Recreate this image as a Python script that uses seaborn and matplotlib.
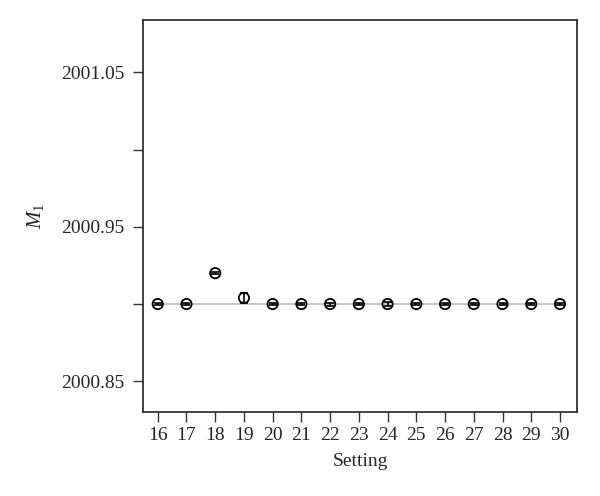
import numpy as np
import pandas as pd
import matplotlib
matplotlib.use('Agg')
import matplotlib.pyplot as plt
import seaborn as sns

# --- Dados
setting = [16, 17, 18, 19, 20, 21, 22, 23, 24, 25, 26, 27, 28, 29, 30]
m1 = [2000.900, 2000.900, 2000.920, 2000.904, 2000.900, 2000.900, 2000.900,
      2000.900, 2000.900, 2000.900, 2000.900, 2000.900, 2000.900, 2000.900,
      2000.900]
m1_err = [0.0005, 0.0005, 0.0005, 0.003, 0.0005, 0.0007, 0.001, 0.0005,
          0.0012, 0.0005, 0.0005, 0.0005, 0.0005, 0.0005, 0.0005]
valor_real = 2000.90

dados = pd.DataFrame({'setting': setting, 'm1': m1, 'err': m1_err})

sns.set_style('ticks')
plt.rcParams['font.family'] = ['Liberation Serif', 'DejaVu Serif']
plt.rcParams['mathtext.fontset'] = 'custom'
plt.rcParams['mathtext.it'] = 'Liberation Serif:italic'
plt.rcParams['mathtext.rm'] = 'Liberation Serif'

fig = plt.figure(figsize=(6, 4.96), dpi=100)
ax = fig.add_axes([0.238, 0.169, 0.724, 0.791])

# linha do valor verdadeiro
ax.hlines(valor_real, min(setting), max(setting), color='#bbbbbb', lw=1.2, zorder=1)

ax.errorbar(dados['setting'], dados['m1'], yerr=dados['err'], fmt='none',
            ecolor='black', elinewidth=1.2, capsize=3, capthick=1.2, zorder=2)
sns.scatterplot(data=dados, x='setting', y='m1', ax=ax, marker='o', s=55,
                facecolor='none', edgecolor='black', linewidth=1.3, zorder=3,
                legend=False)

ax.set_xlim(15.48, 30.6)
ax.set_ylim(2000.830, 2001.084)
ax.set_xticks(setting)
ax.set_yticks([2000.85, 2000.90, 2000.95, 2001.00, 2001.05])
ax.set_yticklabels(['2000.85', '', '2000.95', '', '2001.05'])
ax.tick_params(labelsize=14, length=7, width=1, color='#333333')
ax.tick_params(axis='y', pad=6)

for s in ax.spines.values():
    s.set_linewidth(1.2)
    s.set_color('#222222')

ax.set_xlabel('Setting', fontsize=14, labelpad=7)
ax.set_ylabel(r'$M_1$', fontsize=15, labelpad=11)

fig.savefig('out.png', dpi=100)
